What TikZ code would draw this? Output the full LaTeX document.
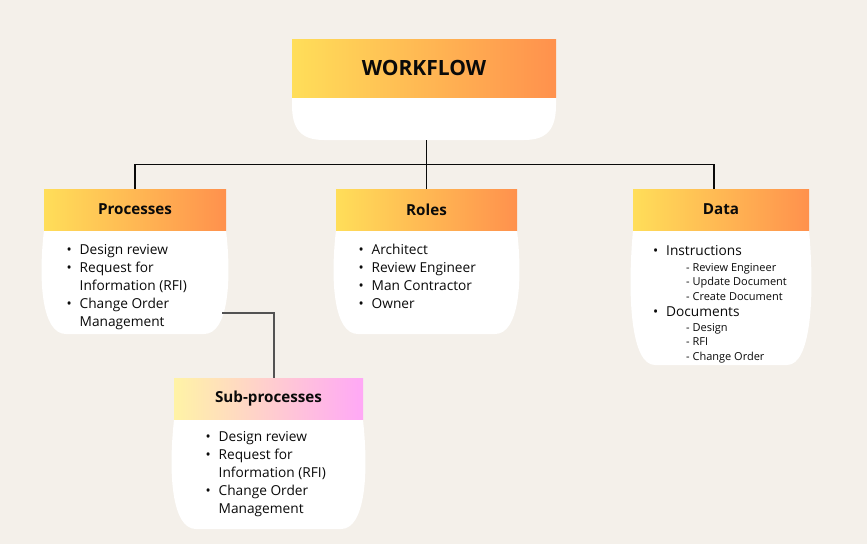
\documentclass[tikz,border=0pt]{standalone}
\usepackage{fontspec}
\setmainfont{Open Sans}
\usepackage{xcolor}
\usetikzlibrary{positioning, calc}

\definecolor{bg}{HTML}{F4F0EA}
\definecolor{wfyellow}{HTML}{FFDE59}
\definecolor{wforange}{HTML}{FF914D}
\definecolor{subyellow}{HTML}{FFF3A6}
\definecolor{subpink}{HTML}{FFA8F6}
\definecolor{ink}{HTML}{0A0A0A}

\newcommand{\itm}{\makebox[13pt][l]{\textbullet}}
\newcommand{\cnt}{\hspace*{13pt}}
\newcommand{\cardbody}[4]{\fill[white] (#1,#3) .. controls ({#1-6},{#3+0.5*(#4-#3)}) and ({#1-2},#4) .. ({#1+22},#4) -- ({#2-22},#4) .. controls ({#2+2},#4) and ({#2+6},{#3+0.5*(#4-#3)}) .. (#2,#3) -- cycle;}

\tikzset{
	head/.style={minimum height=41pt, inner sep=0pt, left color=wfyellow, right color=wforange, text=ink, font=\fontsize{15.2}{17}\selectfont\bfseries},
	items/.style={anchor=base west, inner sep=0pt, text=ink, font=\fontsize{13.7}{18}\selectfont},
	conn/.style={draw=ink, line width=1.2pt}
}

\begin{document}
\begin{tikzpicture}[x=1pt, y=-1pt]
			\fill[bg] (0,0) rectangle (867,544);
			\useasboundingbox (0,0) rectangle (867,544);
			
			\fill[white] (292,97) -- (292,105) .. controls (292,128) and (300,140) .. (324,140) -- (524,140) .. controls (548,140) and (556,128) .. (556,105) -- (556,97) -- cycle;
			\cardbody{44}{226}{230}{334}
			\cardbody{336}{517}{230}{334}
			\cardbody{633}{809}{230}{365}
			\cardbody{174}{363}{420}{529}
			
			\node[head, minimum width=264pt, minimum height=58pt, font=\fontsize{21}{24}\selectfont\bfseries] (wf) at (424,68) {WORKFLOW};
			\node[head, minimum width=182pt] (proc) at (135,209.5) {Processes};
			\node[head, minimum width=181pt] (roles) at (426.5,209.5) {Roles};
			\node[head, minimum width=176pt] (data) at (721,209.5) {Data};
			\node[head, minimum width=189pt, left color=subyellow, right color=subpink] (sub) at (268.5,399) {Sub-processes};
			
			\node[items] (procitems) at (66.5,254.5) {\begin{tabular}[t]{@{}l@{}}
				\itm Design review\\ \itm Request for\\ \cnt Information (RFI)\\ \itm Change Order\\ \cnt Management
			\end{tabular}};
			\node[items] (roleitems) at (358.5,254.5) {\begin{tabular}[t]{@{}l@{}}
				\itm Architect\\ \itm Review Engineer\\ \itm Man Contractor\\ \itm Owner
			\end{tabular}};
			\node[items, font=\fontsize{13.7}{14.5}\selectfont] (dataitems) at (653,255.8) {\begin{tabular}[t]{@{}l@{}}
				\itm Instructions\\[1pt]
				\hspace*{33pt}{\fontsize{11}{12}\selectfont - Review Engineer}\\
				\hspace*{33pt}{\fontsize{11}{12}\selectfont - Update Document}\\
				\hspace*{33pt}{\fontsize{11}{12}\selectfont - Create Document}\\[2pt]
				\itm Documents\\
				\hspace*{33pt}{\fontsize{11}{12}\selectfont - Design}\\
				\hspace*{33pt}{\fontsize{11}{12}\selectfont - RFI}\\
				\hspace*{33pt}{\fontsize{11}{12}\selectfont - Change Order}
			\end{tabular}};
			\node[items] (subitems) at (205.5,441) {\begin{tabular}[t]{@{}l@{}}
				\itm Design review\\ \itm Request for\\ \cnt Information (RFI)\\ \itm Change Order\\ \cnt Management
			\end{tabular}};
			
			\coordinate (wfout) at (426.7,140);
			\coordinate (bus) at (426.7,164.3);
			\coordinate (procout) at (222,313);
			\draw[conn] (wfout) -- (bus);
			\draw[conn] (proc.north) |- (bus) -| ([xshift=-7pt]data.north);
			\draw[conn] (bus) -- (bus |- roles.north);
			\draw[conn, draw=ink!70] (procout) -| ([xshift=5.5pt]sub.north);
		\end{tikzpicture}
\end{document}
